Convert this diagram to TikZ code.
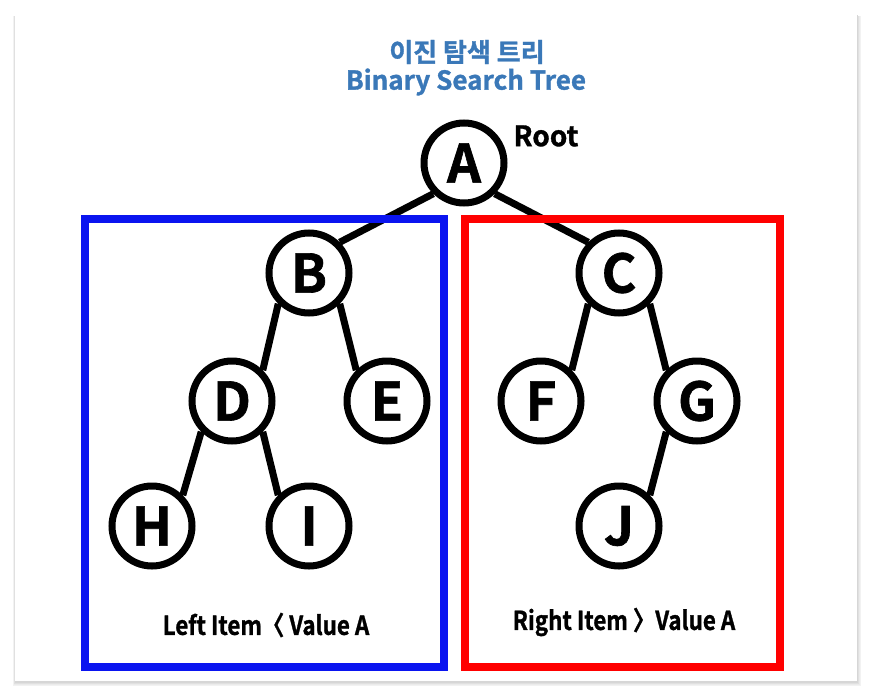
\documentclass[tikz,border=0pt]{standalone}
\usepackage{fontspec}
\usepackage{graphicx}
\setmainfont{Noto Sans}
\newfontfamily\krfont{Noto Sans CJK KR Bold}
\newfontfamily\krheavy[FakeBold=1.2]{Noto Sans CJK KR Bold}
\definecolor{titleblue}{HTML}{3A78B8}
\definecolor{boxblue}{HTML}{0A14F0}
\definecolor{boxred}{HTML}{FF0000}
\pgfdeclarelayer{cardlayer}
\pgfdeclarelayer{edgelayer}
\pgfsetlayers{cardlayer,edgelayer,main}
\begin{document}
\begin{tikzpicture}[x=1pt,y=-1pt,
  tnode/.style={circle,draw=black,line width=7pt,fill=white,minimum size=80pt,inner sep=0pt,
    font=\krheavy\fontsize{53}{53}\selectfont},
  tedge/.style={line width=7pt,black},
  region/.style={line width=8pt},
  title/.style={text=titleblue,font=\krheavy\fontsize{26}{26}\selectfont},
  cond/.style={font=\krheavy\fontsize{26}{26}\selectfont}]
\useasboundingbox (0,0) rectangle (872,696);
\begin{pgfonlayer}{cardlayer}
\fill[white] (0,0) rectangle (872,696);
\foreach \i/\c in {4/5,3/8,2/12,1/16}{
  \fill[black!\c] (15-\i*0.5,15+\i*0.3) rectangle (857+\i,682+\i);
}
\fill[white] (15,15) rectangle (857,681);
\end{pgfonlayer}
% title
\node[title] (t1) at (467,52) {이진 탐색 트리};
\node[title] (t2) at (466,82) {Binary Search Tree};
% nodes
\node[tnode] (A) at (464,163) {A};
\node[tnode] (B) at (309,273) {B};
\node[tnode] (C) at (619,273) {C};
\node[tnode] (D) at (232,401) {D};
\node[tnode] (E) at (387,401) {E};
\node[tnode] (F) at (541,401) {F};
\node[tnode] (G) at (697,401) {G};
\node[tnode] (H) at (152,526) {H};
\node[tnode] (I) at (309,526) {I};
\node[tnode] (J) at (619,526) {J};
\node[font=\krheavy\fontsize{28}{28}\selectfont,anchor=west] (root) at (510,136) {Root};
% edges
\begin{pgfonlayer}{edgelayer}
\draw[tedge] (A.south west) -- (B.north east);
\draw[tedge] (A.south east) -- (C.north west);
\draw[tedge] (B.south west) -- (D.north east);
\draw[tedge] (B.south east) -- (E.north west);
\draw[tedge] (D.south west) -- (H.north east);
\draw[tedge] (D.south east) -- (I.north west);
\draw[tedge] (C.south west) -- (F.north east);
\draw[tedge] (C.south east) -- (G.north west);
\draw[tedge] (G.south west) -- (J.north east);
\end{pgfonlayer}
% regions
\draw[region,boxblue] (85,219) rectangle (444,667);
\draw[region,boxred] (465,219) rectangle (780,667);
\node[cond] (lt) at (266,625) {\scalebox{0.86}[1]{Left Item〈 Value A}};
\node[cond] (rt) at (624,622) {\scalebox{0.86}[1]{Right Item 〉Value A}};
\end{tikzpicture}
\end{document}
